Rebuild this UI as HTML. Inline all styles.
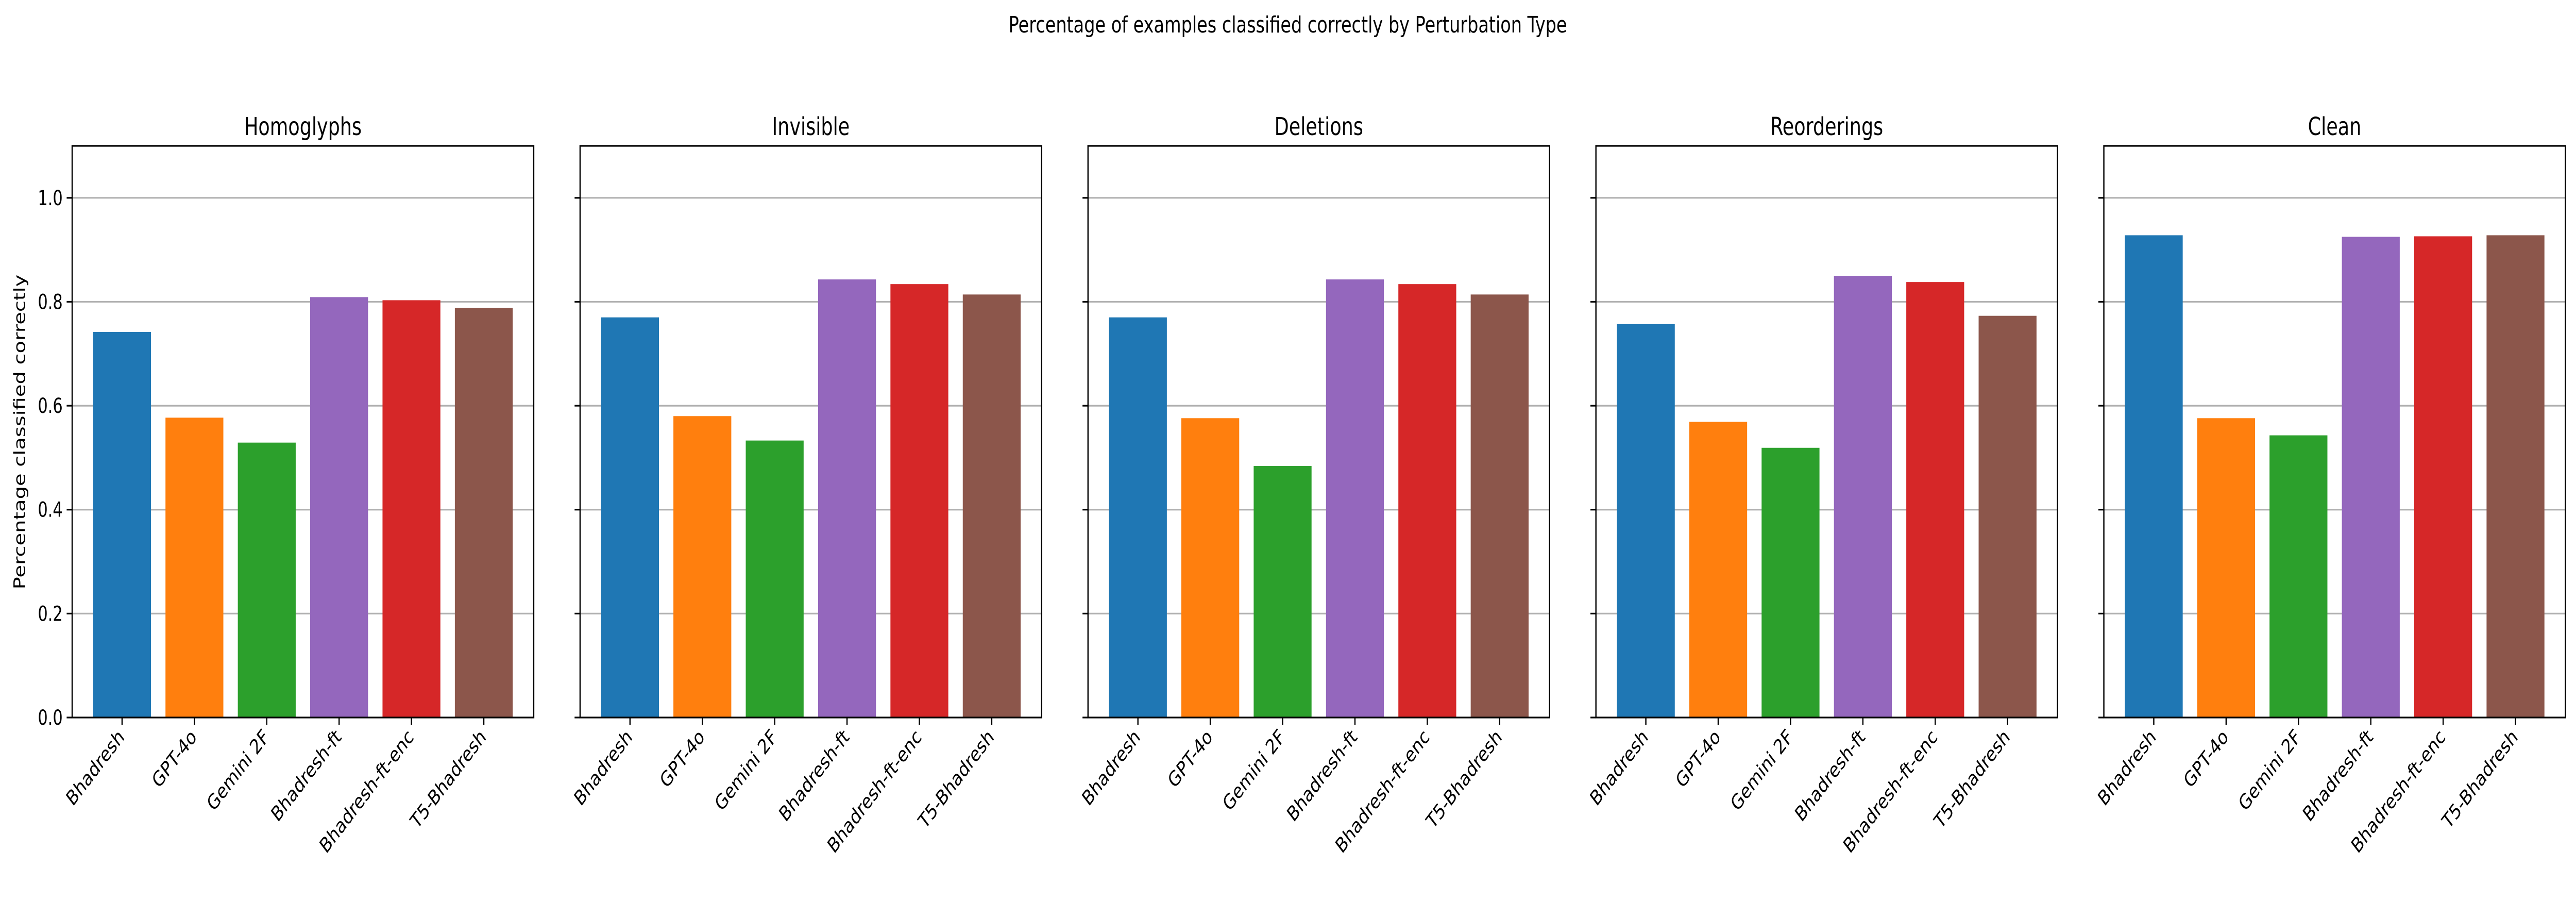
<!DOCTYPE html>
<html><head><meta charset="utf-8">
<style>
html,body{margin:0;padding:0;background:#fff;overflow:hidden;width:100vw;height:100vh;}
svg{display:block;width:100vw;height:100vh;font-family:"DejaVu Sans","Liberation Sans",sans-serif;}
</style></head><body>
<svg id="chart" viewBox="0 0 6569 1779" preserveAspectRatio="none" xmlns="http://www.w3.org/2000/svg">
<rect width="6569" height="1779" fill="#fff"/>
<text x="3284" y="63" font-size="44" text-anchor="middle">Percentage of examples classified correctly by Perturbation Type</text>
<text transform="translate(64,838) rotate(-90)" font-size="40" text-anchor="middle">Percentage classified correctly</text>
<g id="panels"></g>
</svg>
<script>
const panelTitles = ["Homoglyphs","Invisible","Deletions","Reorderings","Clean"];
const categories = ["Bhadresh","GPT-4o","Gemini 2F","Bhadresh-ft","Bhadresh-ft-enc","T5-Bhadresh"];
const homoglyphs = [0.742,0.577,0.529,0.809,0.803,0.788];
const invisible = [0.770,0.580,0.533,0.843,0.834,0.814];
const deletions = [0.770,0.576,0.484,0.843,0.834,0.814];
const reorderings = [0.757,0.569,0.519,0.850,0.838,0.773];
const clean = [0.928,0.576,0.543,0.925,0.926,0.928];
const yTicks = [0,0.2,0.4,0.6,0.8,1.0];
const yTickLabels = ["0.0","0.2","0.4","0.6","0.8","1.0"];
const colors = ["#1f77b4","#ff7f0e","#2ca02c","#9467bd","#d62728","#8c564b"];
const seriesList = [homoglyphs,invisible,deletions,reorderings,clean];

const NS="http://www.w3.org/2000/svg";
const root=document.getElementById('panels');
const TOP=283,BOT=1392,W=1177,STEP=1295.25,LEFT0=184;
const yMax=1.1, xMin=-0.69, xMax=5.69;
function mk(tag,attrs,parent){const e=document.createElementNS(NS,tag);for(const k in attrs)e.setAttribute(k,attrs[k]);parent.appendChild(e);return e;}
seriesList.forEach((vals,p)=>{
  const L=LEFT0+p*STEP;
  const yS=v=>BOT-(v/yMax)*(BOT-TOP);
  const xS=v=>L+(v-xMin)/(xMax-xMin)*W;
  const g=mk('g',{},root);
  
  
  const t=mk('text',{x:L+W/2,y:262,'font-size':48,'text-anchor':'middle'},g);
  t.textContent=panelTitles[p];
  
  
  yTicks.forEach((v,i)=>{
    const y=yS(v);
    if(v>0){const gl=mk('line',{x1:L,x2:L+W,y1:y,y2:y,stroke:'#b0b0b0','stroke-width':3.2},g);
      
      }
    const tk=mk('line',{x1:L-14,x2:L,y1:y,y2:y,stroke:'#000','stroke-width':3.2},g);
    
    
    if(p===0){const tl=mk('text',{x:L-24,y:y+14,'font-size':40,'text-anchor':'end'},g);
      tl.textContent=yTickLabels[i];
      
      }
  });
  vals.forEach((v,i)=>{
    const x0=xS(i-0.4),x1=xS(i+0.4);
    const r=mk('rect',{x:x0,y:yS(v),width:x1-x0,height:BOT-yS(v),fill:colors[i]},g);
    
    
    const cx=xS(i);
    const tk=mk('line',{x1:cx,x2:cx,y1:BOT,y2:BOT+14,stroke:'#000','stroke-width':3.2},g);
    
    
    const tl=mk('text',{transform:`translate(${cx+8},${BOT+40}) rotate(-45)`,'font-size':40,'text-anchor':'end'},g);
    tl.textContent=categories[i];
    
    
  });
  const fr=mk('rect',{x:L,y:TOP,width:W,height:BOT-TOP,fill:'none',stroke:'#000','stroke-width':3.2},g);
  
  
});
</script>
</body></html>
